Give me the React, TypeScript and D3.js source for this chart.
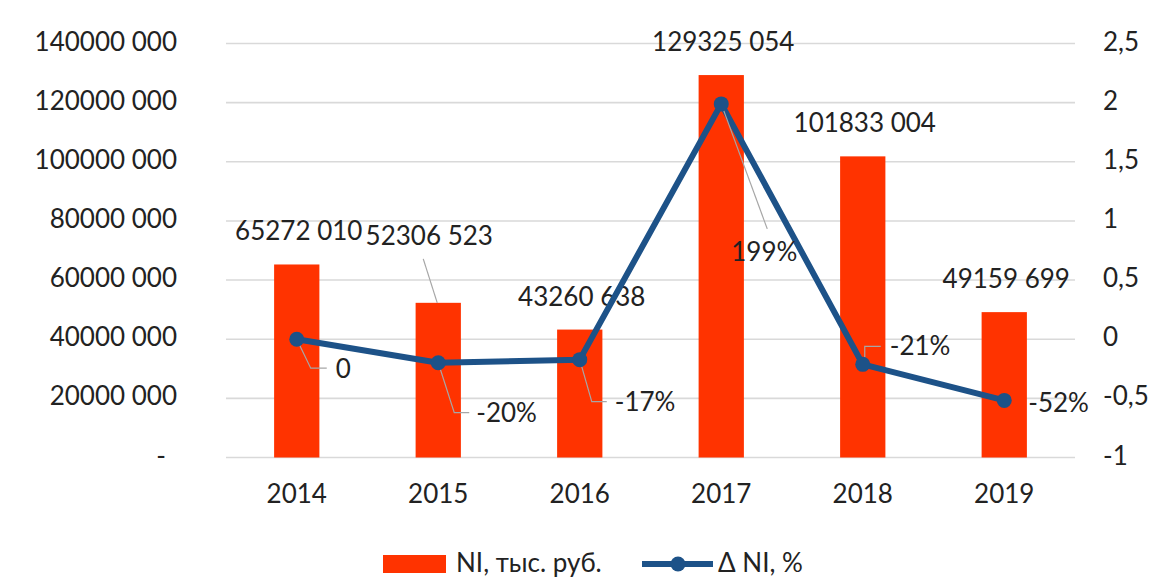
import React from "react";
import * as d3 from "d3";

const years = ["2014", "2015", "2016", "2017", "2018", "2019"];
const niValues = [65272010, 52306523, 43260638, 129325054, 101833004, 49159699];
const deltaValues = [0, -0.1986, -0.1729, 1.9895, -0.2126, -0.5173];
const deltaLabels = ["0", "-20%", "-17%", "199%", "-21%", "-52%"];
const leftTicks = [0, 20000000, 40000000, 60000000, 80000000, 100000000, 120000000, 140000000];
const rightTicks = [-1, -0.5, 0, 0.5, 1, 1.5, 2, 2.5];
const seriesNames = ["NI, тыс. руб.", "Δ NI, %"];

// label placement tweaks (layout, not data)
const barLabelShift = [
  [0, 0],
  [-11, -34],
  [0, 0],
  [0, 0],
  [0, 0],
  [0, 0],
];
const barLeader: (number[][] | null)[] = [
  null,
  [[-15, -44], [-1, 0]],
  null,
  null,
  null,
  null,
];
const lineLabelPos = [
  [39, 29],
  [38, 50],
  [35, 42],
  [10, 148],
  [27, -19],
  [24, 2],
];
const lineLeader: (number[][] | null)[] = [
  [[0, 0], [14, 29], [30, 29]],
  [[0, 0], [16, 50], [31, 50]],
  [[0, 0], [12, 42], [27, 42]],
  [[0, 0], [46, 125]],
  [[2, -4], [2, -18], [18, -18]],
  null,
];

const W = 1153;
const H = 578;
const X0 = 226;
const X1 = 1075;
const YT = 43.5;
const YB = 457.5;
const FONT = "Lato, 'Open Sans', sans-serif";
const FS = 26;
const TXT = "#222222";
const BAR = "#FF3300";
const LINE = "#1D5288";
const GRID = "#D9D9D9";

function fmtNI(v: number): string {
  const hi = Math.floor(v / 1000);
  const lo = String(v % 1000).padStart(3, "0");
  return `${hi} ${lo}`;
}
function fmtLeft(v: number): string {
  if (v === 0) return "-";
  return fmtNI(v);
}
function fmtRight(v: number): string {
  return String(v).replace(".", ",");
}

export default function App() {
  const x = d3.scaleBand<string>().domain(years).range([X0, X1]).paddingInner(0.68).paddingOuter(0.34);
  const yL = d3.scaleLinear().domain([0, 140000000]).range([YB, YT]);
  const yR = d3.scaleLinear().domain([-1, 2.5]).range([YB, YT]);
  const bw = x.bandwidth();
  const cx = (d: string) => (x(d) as number) + bw / 2;

  const pts: [number, number][] = years.map((yr, i) => [cx(yr), yR(deltaValues[i])]);
  const lineGen = d3.line<[number, number]>().x((d) => d[0]).y((d) => d[1]);

  return (
    <svg
      width={W}
      height={H}
      viewBox={`0 0 ${W} ${H}`}
      style={{ position: "absolute", left: 0, top: 0, background: "#fff" }}
      fontFamily={FONT}
      fontSize={FS}
    >
      <rect x={0} y={0} width={W} height={H} fill="#fff" />
      {/* gridlines */}
      {leftTicks.map((t) => (
        <line key={t} x1={X0} x2={X1} y1={yL(t)} y2={yL(t)} stroke={GRID} strokeWidth={1.6} />
      ))}
      {/* left axis labels */}
      {leftTicks.map((t) => (
        <text
          key={"l" + t}
          x={t === 0 ? 166 : 177}
          y={yL(t)}
          dy="0.27em"
          textAnchor="end"
          fill={TXT}
        >
          {fmtLeft(t)}
        </text>
      ))}
      {/* right axis labels */}
      {rightTicks.map((t) => (
        <text key={"r" + t} x={1103} y={yR(t)} dy="0.27em" textAnchor="start" fill={TXT}>
          {fmtRight(t)}
        </text>
      ))}
      {/* bars */}
      {years.map((yr, i) => (
        <rect key={"b" + yr} x={x(yr)} y={yL(niValues[i])} width={bw} height={YB - yL(niValues[i])} fill={BAR} />
      ))}
      {/* bar leader lines */}
      {years.map((yr, i) => {
        const ld = barLeader[i];
        if (!ld) return null;
        const bx = cx(yr);
        const by = yL(niValues[i]);
        return (
          <line
            key={"bl" + yr}
            x1={bx + ld[0][0]}
            y1={by + ld[0][1]}
            x2={bx + ld[1][0]}
            y2={by + ld[1][1]}
            stroke="#A6A6A6"
            strokeWidth={1.2}
          />
        );
      })}
      {/* bar labels */}
      {years.map((yr, i) => (
        <text
          key={"bt" + yr}
          x={cx(yr) + 2 + barLabelShift[i][0]}
          y={yL(niValues[i]) - 24 + barLabelShift[i][1]}
          textAnchor="middle"
          fill={TXT}
        >
          {fmtNI(niValues[i])}
        </text>
      ))}
      {/* line */}
      <path d={lineGen(pts) || ""} fill="none" stroke={LINE} strokeWidth={6} strokeLinejoin="round" />
      {/* line leaders */}
      {pts.map((p, i) => {
        const ld = lineLeader[i];
        if (!ld) return null;
        const d = ld.map((q, k) => `${k === 0 ? "M" : "L"}${p[0] + q[0]},${p[1] + q[1]}`).join("");
        return <path key={"ll" + i} d={d} fill="none" stroke="#A6A6A6" strokeWidth={1.2} />;
      })}
      {pts.map((p, i) => (
        <circle key={"c" + i} cx={p[0]} cy={p[1]} r={7.5} fill={LINE} />
      ))}
      {/* line labels */}
      {pts.map((p, i) => (
        <text
          key={"lt" + i}
          x={p[0] + lineLabelPos[i][0]}
          y={p[1] + lineLabelPos[i][1]}
          dy="0.36em"
          textAnchor="start"
          fill={TXT}
        >
          {deltaLabels[i]}
        </text>
      ))}
      {/* category labels */}
      {years.map((yr) => (
        <text key={"x" + yr} x={cx(yr)} y={503} textAnchor="middle" fill={TXT}>
          {yr}
        </text>
      ))}
      {/* legend */}
      <rect x={383} y={555} width={63} height={18} fill={BAR} />
      <text x={456} y={572} fill={TXT}>
        {seriesNames[0]}
      </text>
      <line x1={642} x2={713} y1={564} y2={564} stroke={LINE} strokeWidth={6} />
      <circle cx={678} cy={564} r={7.5} fill={LINE} />
      <text x={718} y={572} fill={TXT}>
        {seriesNames[1]}
      </text>
    </svg>
  );
}
